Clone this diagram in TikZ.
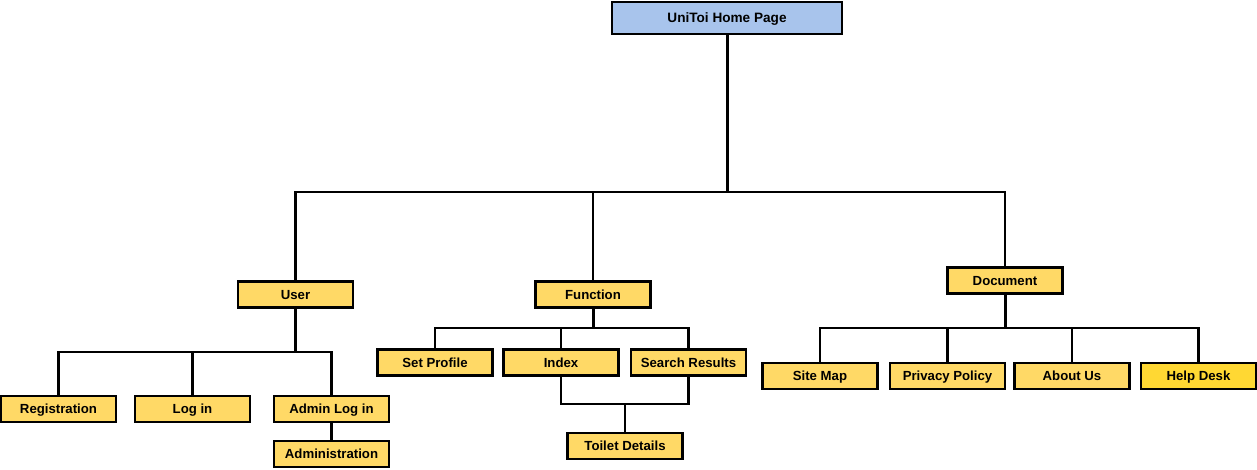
\documentclass[tikz,border=0pt]{standalone}
\usepackage{fontspec}
\setmainfont{Liberation Sans}
\definecolor{boxyellow}{HTML}{FFD966}
\definecolor{helpyellow}{HTML}{FFD833}
\definecolor{topblue}{HTML}{A8C4EC}
\begin{document}
\begin{tikzpicture}[x=1pt,y=-1pt,
  box/.style={draw=black,line width=2.2pt,fill=boxyellow,minimum width=115pt,minimum height=26pt,inner sep=0pt,text height=9.4pt,text depth=0pt,font=\fontsize{13.2}{15}\selectfont\bfseries},
  topbox/.style={box,fill=topblue,minimum width=230pt,minimum height=32pt,text height=9.8pt,font=\fontsize{13.6}{16}\selectfont\bfseries},
  link/.style={draw=black,line width=2.2pt},
  trunk/.style={draw=black,line width=3pt}]
\useasboundingbox (0,0) rectangle (1257,470);
% nodes
\node[topbox] (home) at (727,18) {UniToi Home Page};
\node[box] (user) at (295.5,294.5) {User};
\node[box] (function) at (593,294.5) {Function};
\node[box] (document) at (1005,280.5) {Document};
\node[box] (registration) at (58.5,409) {Registration};
\node[box] (login) at (192.5,409) {Log in};
\node[box] (adminlogin) at (331.5,409) {Admin Log in};
\node[box] (administration) at (331.5,454) {Administration};
\node[box] (setprofile) at (435,362.5) {Set Profile};
\node[box] (index) at (561,362.5) {Index};
\node[box] (search) at (688.5,362.5) {Search Results};
\node[box] (toilet) at (625,446) {Toilet Details};
\node[box] (sitemap) at (820,376) {Site Map};
\node[box] (privacy) at (947.5,376) {Privacy Policy};
\node[box] (about) at (1072,376) {About Us};
\node[box,fill=helpyellow] (help) at (1198.5,376) {Help Desk};
% bus points
\coordinate (hb) at (727,192);
\coordinate (ub) at (295.5,352);
\coordinate (fb) at (593,328);
\coordinate (db) at (1005,328);
\coordinate (tb) at (625,404);
% connectors
\draw[trunk] (home.south) -- (hb);
\draw[link] (user.north) |- (hb);
\draw[link] (document.north) |- (hb);
\draw[link] (function.north) |- (hb);
\draw[trunk] (user.south) -- (ub);
\draw[link] (registration.north) |- (ub);
\draw[link] (login.north) |- (ub);
\draw[link] (adminlogin.north) |- (ub);
\draw[link] (adminlogin.south) -- (administration.north);
\draw[trunk] (function.south) -- (fb);
\draw[link] (setprofile.north) |- (fb);
\draw[link] (index.north) |- (fb);
\draw[link] (search.north) |- (fb);
\draw[link] (index.south) |- (tb);
\draw[link] (search.south) |- (tb);
\draw[link] (toilet.north) -- (tb);
\draw[trunk] (document.south) -- (db);
\draw[link] (sitemap.north) |- (db);
\draw[link] (privacy.north) |- (db);
\draw[link] (about.north) |- (db);
\draw[link] (help.north) |- (db);
\end{tikzpicture}
\end{document}
